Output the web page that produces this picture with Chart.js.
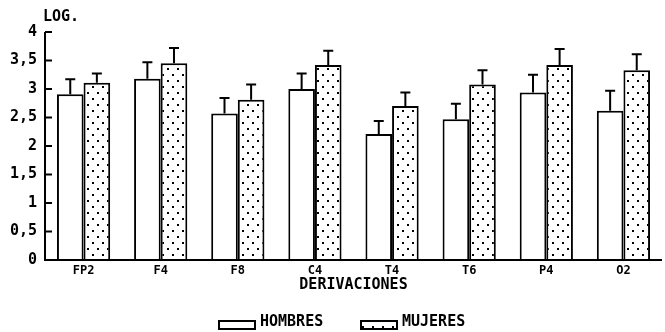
<!DOCTYPE html>
<html>
<head>
<meta charset="utf-8">
<script src="https://cdn.jsdelivr.net/npm/chart.js@4.4.1/dist/chart.umd.min.js"></script>
<style>
  html, body { margin: 0; padding: 0; background: #ffffff; }
  #wrap { position: relative; width: 665px; height: 332px; }
</style>
</head>
<body>
<div id="wrap"><canvas id="c" width="665" height="332"></canvas></div>
<script>
// Electrode derivations (categories)
const derivaciones = ['FP2', 'F4', 'F8', 'C4', 'T4', 'T6', 'P4', 'O2'];
// Mean log values per group
const hombres = [2.91, 3.18, 2.57, 3.00, 2.21, 2.47, 2.94, 2.62];
const mujeres = [3.11, 3.45, 2.81, 3.42, 2.70, 3.08, 3.42, 3.33];
// Standard deviations (upper error bars)
const hombresErr = [0.26, 0.29, 0.27, 0.27, 0.23, 0.27, 0.31, 0.35];
const mujeresErr = [0.16, 0.27, 0.27, 0.25, 0.24, 0.25, 0.28, 0.28];
// Y-axis tick values and their labels
const yTicks = [0, 0.5, 1, 1.5, 2, 2.5, 3, 3.5, 4];
const yTickLabels = ['0', '0,5', '1', '1,5', '2', '2,5', '3', '3,5', '4'];
const seriesNames = ['HOMBRES', 'MUJERES'];

const FONT = '"DejaVu Sans Mono", monospace';

// dotted fill pattern for the second series
function dotPattern() {
  const t = document.createElement('canvas');
  t.width = 10; t.height = 12;
  const g = t.getContext('2d');
  g.fillStyle = '#ffffff';
  g.fillRect(0, 0, 10, 12);
  g.fillStyle = '#000000';
  g.fillRect(2, 2, 2, 2);
  g.fillRect(7, 8, 2, 2);
  return g.createPattern(t, 'repeat');
}
const ctx = document.getElementById('c').getContext('2d');
const dots = dotPattern();

const errorBars = {
  id: 'errorBars',
  afterDatasetsDraw(chart) {
    const c = chart.ctx;
    const ys = chart.scales.y;
    const errs = [hombresErr, mujeresErr];
    c.save();
    c.strokeStyle = '#000';
    c.lineWidth = 2;
    chart.data.datasets.forEach((ds, di) => {
      const meta = chart.getDatasetMeta(di);
      meta.data.forEach((bar, i) => {
        const top = ys.getPixelForValue(ds.data[i]);
        const cap = ys.getPixelForValue(ds.data[i] + errs[di][i]);
        c.beginPath();
        c.moveTo(bar.x, top);
        c.lineTo(bar.x, cap);
        c.moveTo(bar.x - 5, cap);
        c.lineTo(bar.x + 5, cap);
        c.stroke();
      });
    });
    c.restore();
  }
};

const axesAndText = {
  id: 'axesAndText',
  afterDraw(chart) {
    const c = chart.ctx;
    const a = chart.chartArea;
    const ys = chart.scales.y;
    c.save();
    c.strokeStyle = '#000';
    c.lineWidth = 2;
    // axis lines
    c.beginPath();
    c.moveTo(a.left, ys.getPixelForValue(4));
    c.lineTo(a.left, a.bottom);
    c.lineTo(a.right, a.bottom);
    c.stroke();
    // inward tick marks
    yTicks.forEach(v => {
      const y = ys.getPixelForValue(v);
      c.beginPath();
      c.moveTo(a.left, y);
      c.lineTo(a.left + 7, y);
      c.stroke();
    });
    // axis unit label
    c.fillStyle = '#000';
    c.font = 'bold 15px ' + FONT;
    c.textAlign = 'left';
    c.textBaseline = 'middle';
    c.fillText('LOG.', 43, 17);
    // legend
    const fills = ['#ffffff', dots];
    const boxX = [219, 361];
    seriesNames.forEach((n, i) => {
      c.fillStyle = fills[i];
      c.fillRect(boxX[i], 321, 36, 8);
      c.lineWidth = 2;
      c.strokeRect(boxX[i], 321, 36, 8);
      c.fillStyle = '#000';
      c.fillText(n, boxX[i] + 41, 322);
    });
    c.restore();
  }
};

new Chart(ctx, {
  type: 'bar',
  data: {
    labels: derivaciones,
    datasets: [
      { label: seriesNames[0], data: hombres, backgroundColor: '#ffffff',
        borderColor: '#000', borderWidth: 2 },
      { label: seriesNames[1], data: mujeres, backgroundColor: dots,
        borderColor: '#000', borderWidth: 2 }
    ]
  },
  options: {
    responsive: false,
    animation: false,
    layout: { padding: { left: 0, right: 3, top: 32, bottom: 38 } },
    datasets: { bar: { categoryPercentage: 0.69, barPercentage: 1, borderSkipped: 'start' } },
    plugins: { legend: { display: false }, tooltip: { enabled: false }, title: { display: false } },
    scales: {
      x: {
        grid: { display: false, drawTicks: false },
        border: { display: false },
        ticks: { color: '#000', padding: 4, font: { family: FONT, size: 12, weight: 'bold' } },
        title: { display: true, text: 'DERIVACIONES', color: '#000', padding: 0,
                 font: { family: FONT, size: 15, weight: 'bold' } },
        afterFit(s) { s.height = 34; }
      },
      y: {
        min: 0, max: 4,
        afterBuildTicks(s) { s.ticks = yTicks.map(v => ({ value: v })); },
        grid: { display: false, drawTicks: false },
        border: { display: false },
        ticks: {
          color: '#000', padding: 8,
          font: { family: FONT, size: 15, weight: 'bold' },
          callback: (v) => yTickLabels[yTicks.indexOf(v)]
        },
        afterFit(s) { s.width = 45; }
      }
    }
  },
  plugins: [errorBars, axesAndText]
});
</script>
</body>
</html>
